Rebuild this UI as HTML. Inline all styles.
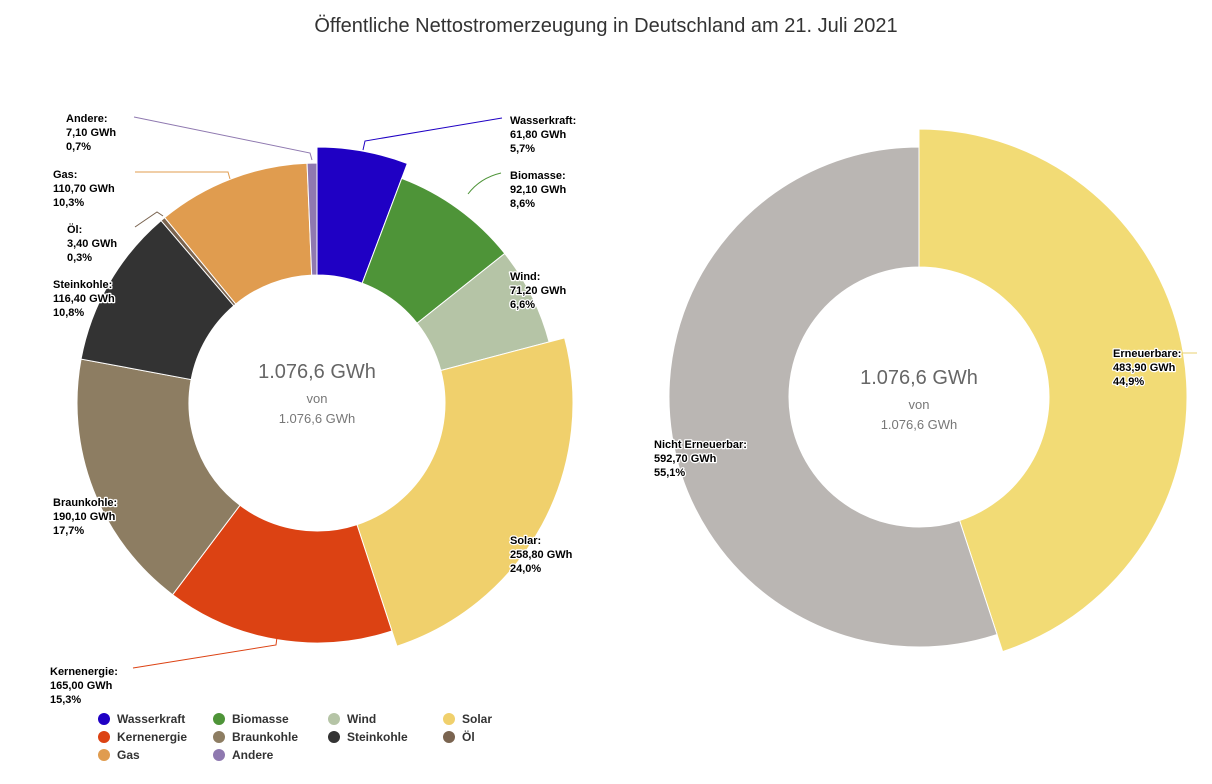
<!DOCTYPE html>
<html><head><meta charset="utf-8">
<style>
body{margin:0;background:#fff;width:1212px;height:779px;overflow:hidden;font-family:"Liberation Sans",sans-serif;}
svg text{font-family:"Liberation Sans","DejaVu Sans",sans-serif;}
.lbl{font-size:11px;font-weight:bold;fill:#000;stroke:#fff;stroke-width:2.5px;paint-order:stroke;stroke-linejoin:round;}
.leg{font-size:12px;font-weight:bold;fill:#333;}
</style></head>
<body>
<svg id="chart" width="1212" height="779">
<text x="606" y="32" text-anchor="middle" font-size="20" fill="#333">Öffentliche Nettostromerzeugung in Deutschland am 21. Juli 2021</text>
<g id="left"></g><g id="right"></g><g id="legend"></g>
</svg>
<script>
const categories=["Wasserkraft","Biomasse","Wind","Solar","Kernenergie","Braunkohle","Steinkohle","Öl","Gas","Andere"];
const values=[61.8,92.1,71.2,258.8,165.0,190.1,116.4,3.4,110.7,7.1];
const colors=["#1f00c4","#4e9438","#b5c4a6","#f0d06c","#dc4213","#8d7d62","#333333","#7a6450","#e09c4f","#8f79b0"];
const highlighted=["Wasserkraft","Solar"];
const groupCats=["Erneuerbare","Nicht Erneuerbar"];
const groupValues=[483.9,592.7];
const groupColors=["#f2db75","#bab6b3"];
const groupHighlighted=["Erneuerbare"];
const NS="http://www.w3.org/2000/svg";
function mk(t,a,p){const e=document.createElementNS(NS,t);for(const k in a)e.setAttribute(k,a[k]);p.appendChild(e);return e;}
function fmt(v,d){return v.toFixed(d).replace('.',',');}
function pt(cx,cy,r,a){return [cx+r*Math.sin(a),cy-r*Math.cos(a)];}
function arc(cx,cy,r0,r1,a0,a1){const l=(a1-a0)>Math.PI?1:0;const p1=pt(cx,cy,r1,a0),p2=pt(cx,cy,r1,a1),p3=pt(cx,cy,r0,a1),p4=pt(cx,cy,r0,a0);
return `M${p1[0]},${p1[1]}A${r1},${r1} 0 ${l} 1 ${p2[0]},${p2[1]}L${p3[0]},${p3[1]}A${r0},${r0} 0 ${l} 0 ${p4[0]},${p4[1]}Z`;}
function donut(g,cats,vals,cols,hi,cx,cy,r0,r1,r1h,start,tdy){
 const tot=vals.reduce((a,b)=>a+b,0);let a=start;
 vals.forEach((v,i)=>{const da=v/tot*2*Math.PI;
  const p=mk('path',{d:arc(cx,cy,r0,hi.includes(cats[i])?r1h:r1,a,a+da),fill:cols[i],stroke:'#fff','stroke-width':1},g);
  
  
  a+=da;});
 const t1=mk('text',{x:cx,y:cy-23+tdy,'text-anchor':'middle','font-size':20,fill:'#666'},g);t1.textContent=fmt(tot,1).replace(/^1/,'1.')+' GWh';
 
 const t2=mk('text',{x:cx,y:cy+2+tdy,'text-anchor':'middle','font-size':13,fill:'#777'},g);t2.textContent='von';
 
 const t3=mk('text',{x:cx,y:cy+22+tdy,'text-anchor':'middle','font-size':13,fill:'#777'},g);t3.textContent=fmt(tot,1).replace(/^1/,'1.')+' GWh';
 
 return tot;}
const L=document.getElementById('left'),R=document.getElementById('right');
const totL=donut(L,categories,values,colors,highlighted,317,403,128,240,256,0,-2);
const totR=donut(R,groupCats,groupValues,groupColors,groupHighlighted,919,397,130,250,268,0,10);
const labelPos={"Wasserkraft":[510,124],"Biomasse":[510,179],"Wind":[510,280],"Solar":[510,544],"Kernenergie":[50,675],"Braunkohle":[53,506],"Steinkohle":[53,288],"Öl":[67,233],"Gas":[53,178],"Andere":[66,122]};
const connectors={"Wasserkraft":"M363,150L365,141L502,118","Biomasse":"M468,194Q480,178 501,173","Andere":"M312,160L310,153L134,117","Gas":"M230,179L228,172L135,172","Öl":"M163,216L157,212L135,227","Kernenergie":"M277,637L276,645L133,668","Erneuerbare":"M1180,353L1197,353"};
function label(g,name,v,tot,x,y,col){
 if(connectors[name]){const c=mk('path',{d:connectors[name],fill:'none',stroke:col,'stroke-width':1},g);
  }
 const t=mk('text',{x:x,y:y,class:'lbl'},g);
 
 [name+':',fmt(v,2)+' GWh',fmt(v/tot*100,1)+'%'].forEach((s,k)=>{const ts=mk('tspan',{x:x,dy:k?14:0},t);ts.textContent=s;});}
categories.forEach((c,i)=>label(L,c,values[i],totL,labelPos[c][0],labelPos[c][1],colors[i]));
const gPos={"Nicht Erneuerbar":[654,448],"Erneuerbare":[1113,357]};
groupCats.forEach((c,i)=>label(R,c,groupValues[i],totR,gPos[c][0],gPos[c][1],'#e8d070'));
const G=document.getElementById('legend');
categories.forEach((c,i)=>{const col=i%4,row=Math.floor(i/4);const x=104+col*115,y=719+row*18;
 const it=mk('g',{},G);
 mk('circle',{cx:x,cy:y,r:6,fill:colors[i]},it);
 const t=mk('text',{x:x+13,y:y+4,class:'leg'},it);t.textContent=c;});
</script>
</body></html>
